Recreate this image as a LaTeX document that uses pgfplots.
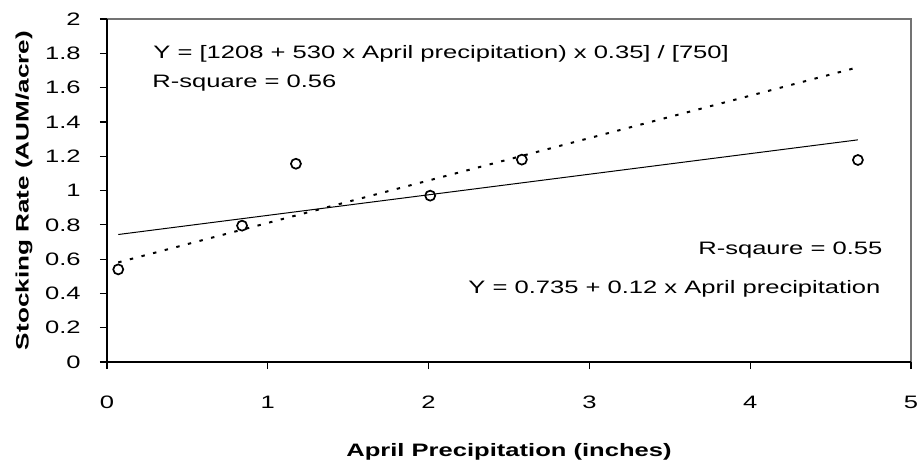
\documentclass[border=0pt]{standalone}
\usepackage{fontspec}
\setmainfont{Liberation Sans}
\usepackage{graphicx}
\usepackage{pgfplots}
\pgfplotsset{compat=1.18}
\newcommand{\wx}[1]{\scalebox{1.42}[1]{#1}}
\begin{document}
\begin{tikzpicture}
\path[use as bounding box] (-53.5pt,-50pt) rectangle (408pt,181pt);
\begin{axis}[
  at={(0pt,0pt)}, anchor=south west,
  scale only axis, width=402pt, height=171.5pt,
  xmin=0, xmax=5, ymin=0, ymax=2,
  axis lines*=left,
  axis line style={black, line width=1pt, -},
  tick align=outside, major tick length=3.5pt,
  tick style={black, line width=0.6pt},
  font=\fontsize{9}{11}\selectfont,
  xtick={0,1,2,3,4,5},
  xticklabels={\wx{0},\wx{1},\wx{2},\wx{3},\wx{4},\wx{5}},
  ytick={0,0.2,0.4,0.6,0.8,1,1.2,1.4,1.6,1.8,2},
  yticklabels={\wx{0},\wx{0.2},\wx{0.4},\wx{0.6},\wx{0.8},\wx{1},\wx{1.2},\wx{1.4},\wx{1.6},\wx{1.8},\wx{2}},
  xticklabel style={anchor=north, inner sep=0pt, yshift=-13.5pt},
  yticklabel style={anchor=east, inner sep=0pt, xshift=-9.5pt},
  xlabel={\wx{\bfseries April Precipitation (inches)}},
  ylabel={\scalebox{1.45}[1]{\bfseries Stocking Rate (AUM/acre)}},
  xlabel style={at={([yshift=-47pt]axis description cs:0.5,0)}, anchor=base, inner sep=0pt},
  ylabel style={at={([xshift=-41.5pt]axis description cs:0,0.5)}, anchor=center, inner sep=0pt},
  clip=false,
]
\addplot[black, line width=1pt, dash pattern=on 1.7pt off 4.3pt] coordinates {(0.07,0.581) (4.67,1.7186)};
\addplot[black, line width=0.5pt] coordinates {(0.07,0.7434) (4.67,1.2954)};
\addplot[only marks, black, mark=o, mark size=2.5pt, mark options={line width=0.85pt}] coordinates {
  (0.07,0.54) (0.84,0.795) (1.175,1.156) (2.01,0.97) (2.58,1.18) (4.67,1.178)};
\draw[black!55, line width=1pt] (axis cs:0,2) -- (axis cs:5,2) -- (axis cs:5,0);
\draw[black, line width=1.3pt] (axis cs:0,2) -- (axis cs:0,0) -- (axis cs:5,0);
\node[anchor=base west, inner sep=0pt] at (axis cs:0.286,1.767) {\wx{Y = [1208 + 530 x April precipitation) x 0.35] / [750]}};
\node[anchor=base west, inner sep=0pt] at (axis cs:0.28,1.603) {\wx{R-square = 0.56}};
\node[anchor=base west, inner sep=0pt] at (axis cs:3.675,0.624) {\wx{R-sqaure = 0.55}};
\node[anchor=base west, inner sep=0pt] at (axis cs:2.245,0.397) {\wx{Y = 0.735 + 0.12 x April precipitation}};
\end{axis}
\end{tikzpicture}
\end{document}
